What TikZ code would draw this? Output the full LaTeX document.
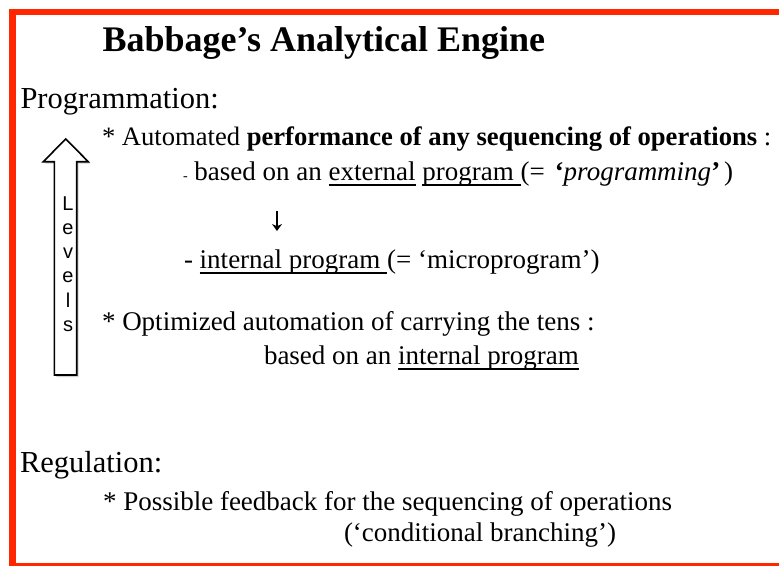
\documentclass[tikz,border=0pt]{standalone}
\usepackage{fontspec}
\setmainfont{Liberation Serif}
\newfontfamily\levfont{Liberation Sans}
\usetikzlibrary{arrows.meta}
\definecolor{framered}{RGB}{255,38,0}
\newcommand\myul[1]{\setbox0\hbox{#1}\rlap{\rule[-6pt]{\wd0}{2.4pt}}\box0}
\begin{document}
\begin{tikzpicture}[x=1pt,y=-1pt,
  txt/.style={anchor=base west,inner sep=0pt,outer sep=0pt},
  itemtext/.style={txt,font=\fontsize{27}{33}\selectfont},
  sectext/.style={txt,font=\fontsize{30.5}{36}\selectfont},
  ttl/.style={txt,font=\fontsize{36}{42}\selectfont\bfseries},
  lev/.style={anchor=base,inner sep=0pt,outer sep=0pt,font=\levfont\fontsize{20}{20}\selectfont},
  blockarrow/.style={draw=black,line width=1.6pt,fill=white,line join=miter}]
\useasboundingbox (0,0) rectangle (779,565);
\begin{scope}
  \clip (0,0) rectangle (779,565);
  \draw[framered,line width=6.5pt] (12.5,12) rectangle (800,566);
\end{scope}
% title and headings
\node[ttl] (title) at (102.5,51) {Babbage’s Analytical Engine};
\node[sectext] (prog) at (20.5,108) {Programmation:};
\node[sectext] (reg) at (20,472) {Regulation:};
% items
\node[itemtext,font=\fontsize{26.6}{33}\selectfont] (auto) at (102,145) {* Automated \textbf{performance of any sequencing of operations} :};
\node[itemtext] (ext) at (183,180) {{\fontsize{14}{14}\selectfont -}\ based on an \myul{external}\ \myul{program }(=\hspace{10pt}\textbf{‘}\textit{programming}\textbf{’}\hspace{4pt})};
\coordinate (dn1) at (277,211);
\coordinate (dn2) at (277,231);
\draw[line width=1.6pt,-{Stealth[length=7pt,width=10pt]}] (dn1) -- (dn2);
\node[itemtext] (int) at (184,268) {-\ \myul{internal program }(= ‘microprogram’)};
\node[itemtext] (opt) at (102,330) {* Optimized automation of carrying the tens :};
\node[itemtext] (basedint) at (264,364) {based on an \myul{internal program}};
\node[itemtext] (poss) at (103,510) {* Possible feedback for the sequencing of operations};
\node[itemtext] (cond) at (344,541) {(‘conditional branching’)};
% levels block arrow
\fill[black!18] (67.7,141) -- (90.3,163.7) -- (78.7,163.7) -- (78.7,377) -- (56.3,377) -- (56.3,163.7) -- (45.3,163.7) -- cycle;
\draw[blockarrow] (65.7,139) -- (88.3,161.7) -- (76.7,161.7) -- (76.7,375) -- (54.3,375) -- (54.3,161.7) -- (43.3,161.7) -- cycle;
\node[lev] (l1) at (68,210) {L};
\node[lev] (l2) at (68,234.5) {e};
\node[lev] (l3) at (68,258.5) {v};
\node[lev] (l4) at (68,282.5) {e};
\node[lev] (l5) at (68,307.5) {l};
\node[lev] (l6) at (68,331.5) {s};
\end{tikzpicture}
\end{document}
